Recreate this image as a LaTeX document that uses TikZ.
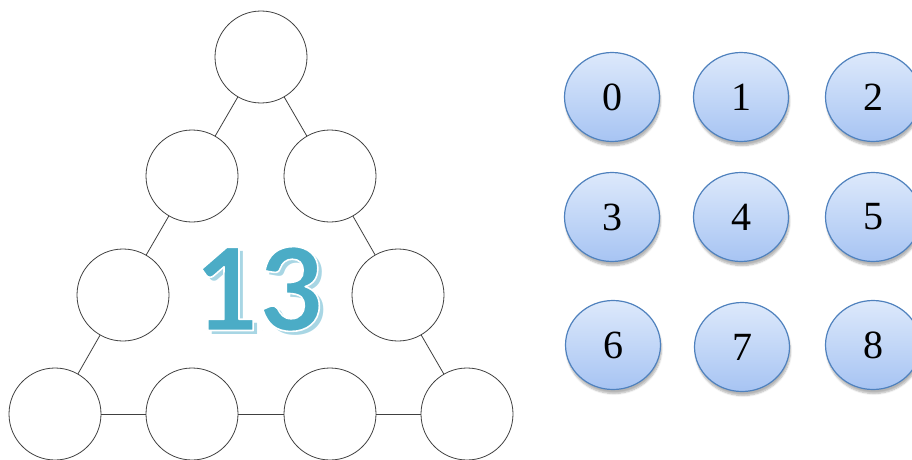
\documentclass[tikz,border=0pt]{standalone}
\usepackage{fontspec}
\setmainfont{Liberation Serif}
\newfontfamily\numfont{Carlito}
\usetikzlibrary{shapes.geometric,shadows.blur}
\definecolor{slotgray}{HTML}{404040}
\definecolor{tealnum}{HTML}{4BACC6}
\definecolor{tealshade}{HTML}{A8D6E4}
\definecolor{digitedge}{HTML}{4F81BD}
\definecolor{digittop}{HTML}{DDE9FB}
\definecolor{digitbot}{HTML}{A7C4F3}
% white rim round the glyphs: fill, then stroke
\newcommand\rimtext[1]{\special{pdf:literal direct 1 1 1 RG 1.6 w 1 j 2 Tr}#1\special{pdf:literal direct 0 Tr}}
\tikzset{
  slot/.style={circle,draw=slotgray,line width=0.8pt,minimum size=92pt,inner sep=0pt,fill=white},
  digit/.style={ellipse,draw=digitedge,line width=1.2pt,minimum width=95pt,minimum height=89pt,
    inner sep=0pt,top color=digittop,bottom color=digitbot,font=\fontsize{40}{40}\selectfont,
    blur shadow={shadow xshift=1pt,shadow yshift=-4pt,shadow blur steps=6,shadow opacity=30}},
  sumfont/.style={font=\numfont\bfseries\fontsize{128}{128}\selectfont}
}
\begin{document}
\begin{tikzpicture}[x=1pt,y=-1pt]
\useasboundingbox (0,0) rectangle (912,460);
% triangle of empty slots
\node[slot] (a) at (261,57) {};
\node[slot] (b1) at (192,176) {};
\node[slot] (b2) at (330,176) {};
\node[slot] (c1) at (123,295) {};
\node[slot] (c2) at (398,295) {};
\node[slot] (d1) at (55,414) {};
\node[slot] (d2) at (192,414) {};
\node[slot] (d3) at (330,414) {};
\node[slot] (d4) at (467,414) {};
\draw[slotgray,line width=0.8pt] (a) -- (b1) (b1) -- (c1) (c1) -- (d1);
\draw[slotgray,line width=0.8pt] (a) -- (b2) (b2) -- (c2) (c2) -- (d4);
\draw[slotgray,line width=0.8pt] (d1) -- (d2) (d2) -- (d3) (d3) -- (d4);
% the sum
\node[sumfont,text=tealshade] (sumshade) at (262,293) {13};
\node[sumfont,text=tealnum] (sum) at (258,289) {\rimtext{13}};
% digit cards
\foreach \n/\x/\y in {0/612/97,1/741/97,2/873/97,3/612/217,4/741/217,5/873/217,6/613/345,7/742/347,8/873/345}
  \node[digit] (n\n) at (\x,\y) {\n};
\end{tikzpicture}
\end{document}
